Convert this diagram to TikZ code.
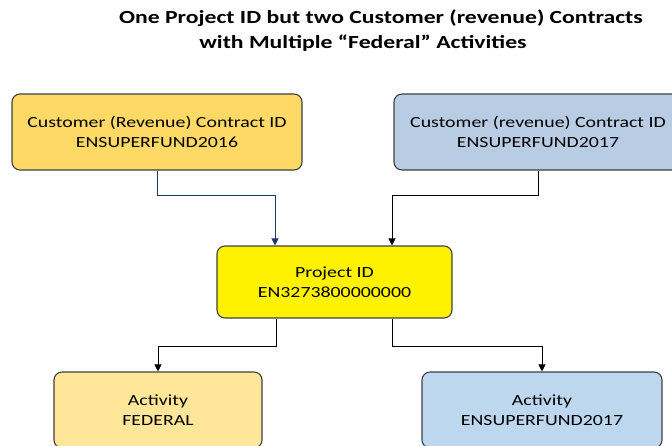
\documentclass[tikz,border=0pt]{standalone}
\usepackage{fontspec}
\setmainfont[FakeStretch=1.28]{Carlito}
\usetikzlibrary{arrows.meta, positioning}
\definecolor{goldbox}{HTML}{FFD966}
\definecolor{bluebox}{HTML}{B8CCE4}
\definecolor{paleg}{HTML}{FFE699}
\definecolor{paleb}{HTML}{BDD7EE}
\definecolor{navyln}{HTML}{203864}
\begin{document}
\begin{tikzpicture}[
  x=1pt, y=-1pt,
  font=\fontsize{15.5}{20}\selectfont,
  idbox/.style={rectangle, rounded corners=8pt, draw=black!75, line width=1.1pt,
                align=center, inner sep=0pt, minimum height=76pt},
  lnk/.style={-{Triangle[length=7pt,width=7pt]}, line width=0.9pt, black}
]
\useasboundingbox (0,0) rectangle (672,445);

\node[font=\bfseries\fontsize{18.5}{25}\selectfont, align=center] (ttl) at (381,31)
  {One Project ID but two Customer (revenue) Contracts\\with Multiple ``Federal'' Activities\hspace*{36pt}};

\node[idbox, fill=goldbox, minimum width=290pt] (ca) at (157,132)
  {Customer (Revenue) Contract ID\\ENSUPERFUND2016};
\node[idbox, fill=bluebox, minimum width=288pt] (cb) at (538,132)
  {Customer (revenue) Contract ID\\ENSUPERFUND2017};
\node[idbox, fill=yellow, minimum width=235pt, minimum height=72pt] (pid) at (334.5,282)
  {Project ID\\EN3273800000000};
\node[idbox, fill=paleg, minimum width=208pt] (actf) at (158,410)
  {Activity\\FEDERAL};
\node[idbox, fill=paleb, minimum width=240pt] (acte) at (542,410)
  {Activity\\ENSUPERFUND2017};

% contracts feed the project
\draw[lnk, navyln] (ca.south) -- ++(0,25) -| ([xshift=-59.5pt]pid.north);
\draw[lnk] (cb.south) -- ++(0,25) -| ([xshift=57.5pt]pid.north);

% project splits into activities
\draw[lnk] ([xshift=-58pt]pid.south) -- ++(0,28) -| (actf.north);
\draw[lnk] ([xshift=58pt]pid.south) -- ++(0,28) -| (acte.north);
\end{tikzpicture}
\end{document}
